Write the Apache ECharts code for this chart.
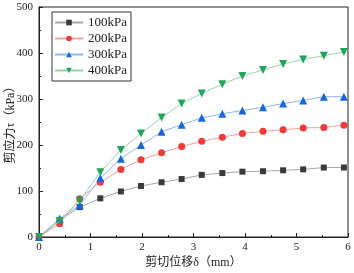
<!DOCTYPE html>
<html>
<head>
<meta charset="utf-8">
<script src="https://cdn.jsdelivr.net/npm/echarts@6/dist/echarts.min.js"></script>
<style>
  html, body { margin: 0; padding: 0; background: #fff; }
  #chart { width: 354px; height: 273px; }
</style>
</head>
<body>
<div id="chart"></div>
<script>
const displacement = [0, 0.4, 0.79, 1.19, 1.59, 1.98, 2.38, 2.77, 3.16, 3.56, 3.95, 4.35, 4.74, 5.13, 5.53, 5.92];
const names = ["100kPa", "200kPa", "300kPa", "400kPa"];
const s100 = [0, 36, 65, 84, 99, 111, 119, 126, 135, 139, 142, 143, 145, 147, 151, 151];
const s200 = [0, 29, 83, 119, 147, 168, 183, 197, 208, 217, 225, 230, 233, 237, 238, 243];
const s300 = [0, 40, 69, 128, 170, 200, 229, 244, 259, 268, 275, 282, 290, 297, 305, 305];
const s400 = [0, 35, 79, 141, 189, 225, 260, 290, 312, 332, 350, 363, 376, 386, 394, 402];

const font = "'Liberation Serif', 'Noto Sans CJK SC', serif";
const styles = [
  { symbol: "rect", color: "#3a3a3a", line: "#a8a8a8", size: 6 },
  { symbol: "circle", color: "#f03a3a", line: "#f5a0a0", size: 7 },
  { symbol: "triangle", color: "#1766e0", line: "#8fb6ee", size: 8 },
  { symbol: "path://M0,0 L10,0 L5,9 Z", color: "#22a55a", line: "#96d4ad", size: 8 },
];
const values = [s100, s200, s300, s400];

const chart = echarts.init(document.getElementById("chart"));
chart.setOption({
  animation: false,
  textStyle: { fontFamily: font },
  grid: {
    left: 39, right: 6, top: 7, bottom: 36,
    containLabel: false, outerBoundsMode: "none",
    show: true, borderColor: "#222", borderWidth: 1,
  },
  legend: {
    left: 52, top: 12, orient: "vertical",
    itemWidth: 28, itemHeight: 7, itemGap: 3,
    padding: [4, 4, 4, 2],
    borderColor: "#333", borderWidth: 1,
    textStyle: { fontFamily: font, fontSize: 13, color: "#222" },
    data: names,
  },
  xAxis: {
    type: "value", min: 0, max: 6, interval: 1,
    name: "剪切位移δ（mm）", nameLocation: "middle", nameGap: 20, nameMoveOverlap: false,
    nameTextStyle: { fontFamily: font, fontSize: 12, color: "#222" },
    axisLine: { lineStyle: { color: "#222" } },
    axisTick: { inside: true, length: 4, lineStyle: { color: "#222" } },
    minorTick: { show: true, splitNumber: 2, length: 2, lineStyle: { color: "#222" } },
    axisLabel: { fontSize: 11, color: "#222", margin: 5 },
    splitLine: { show: false },
  },
  yAxis: {
    type: "value", min: 0, max: 500, interval: 100,
    name: "剪应力τ（kPa）", nameLocation: "middle", nameGap: 22, nameMoveOverlap: false,
    nameTextStyle: { fontFamily: font, fontSize: 12, color: "#222" },
    axisLine: { show: true, lineStyle: { color: "#222" } },
    axisTick: { show: true, inside: true, length: 4, lineStyle: { color: "#222" } },
    minorTick: { show: true, splitNumber: 2, length: 2, lineStyle: { color: "#222" } },
    axisLabel: { fontSize: 11, color: "#222", margin: 6 },
    splitLine: { show: false },
  },
  series: names.map((name, i) => ({
    name,
    type: "line",
    data: displacement.map((x, j) => [x, values[i][j]]),
    symbol: styles[i].symbol,
    symbolSize: styles[i].size,
    itemStyle: { color: styles[i].color },
    lineStyle: { color: styles[i].line, width: 1 },
    z: 2 + i,
  })),
});
</script>
</body>
</html>
